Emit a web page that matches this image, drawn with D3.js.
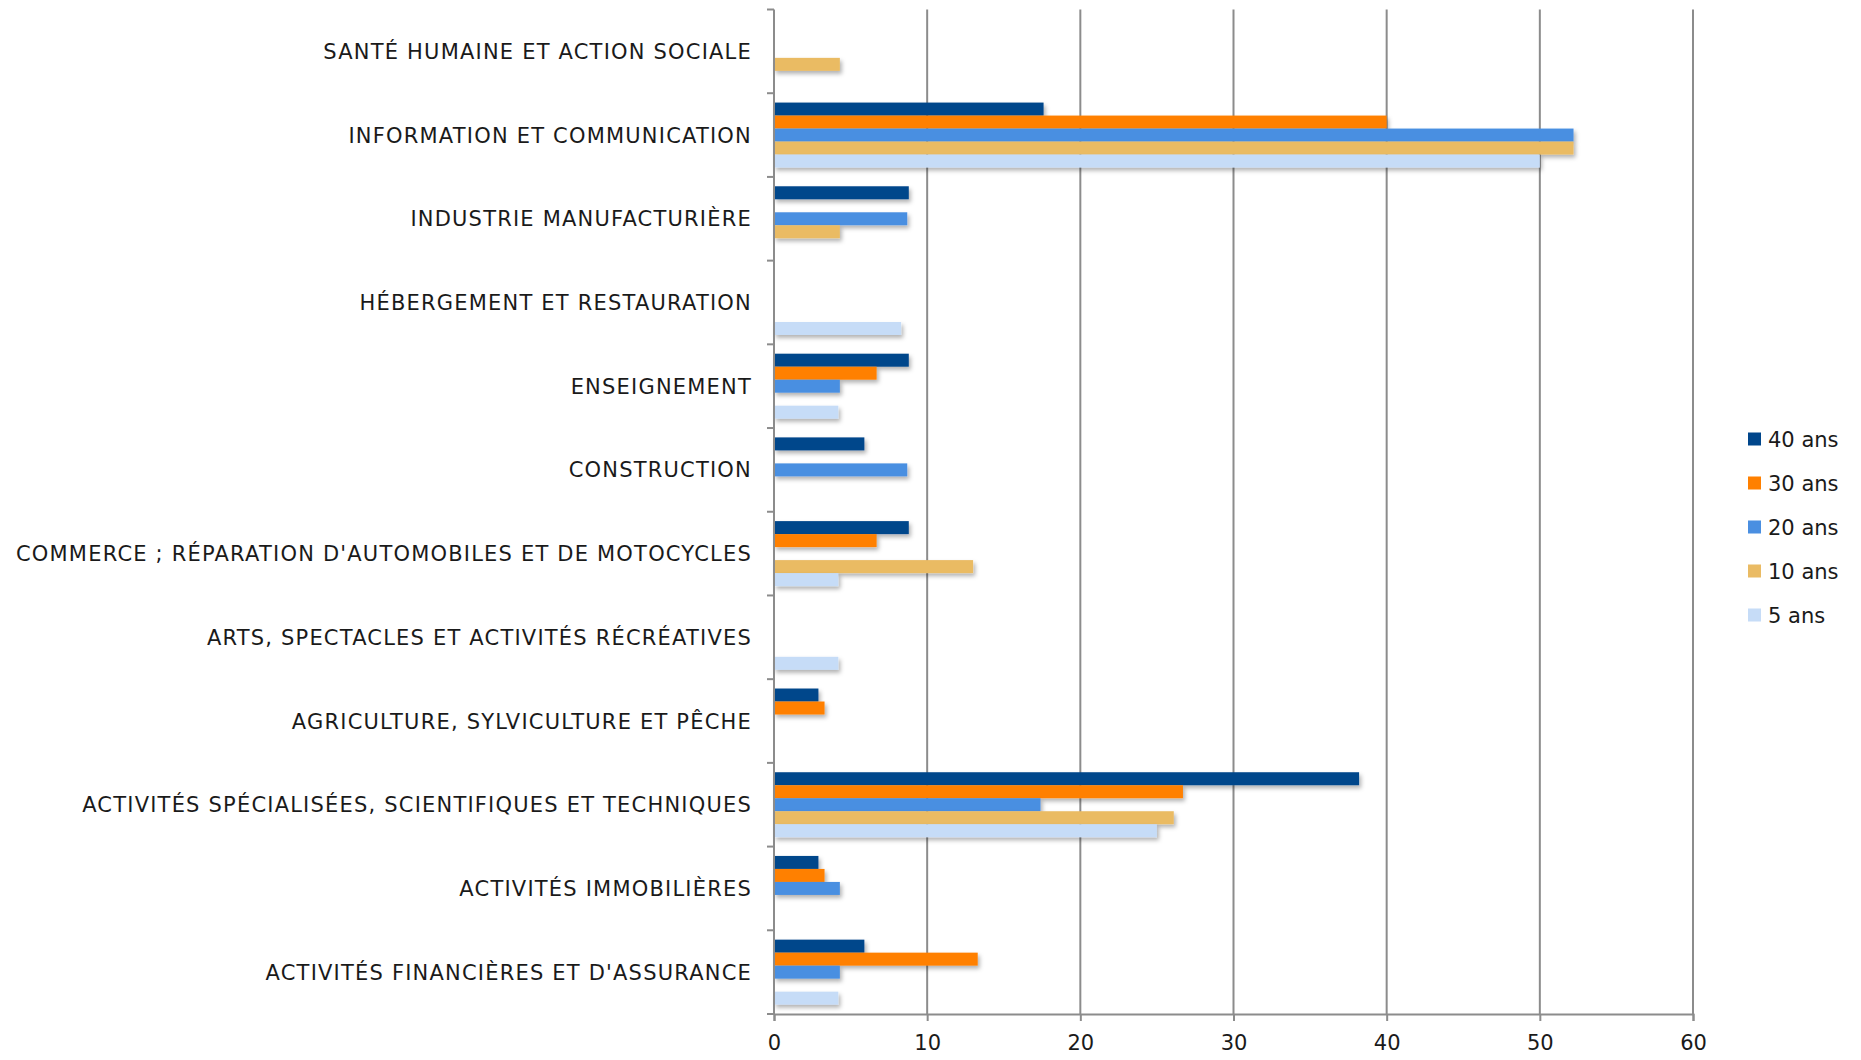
<!DOCTYPE html>
<html>
<head>
<meta charset="utf-8">
<script src="https://cdn.jsdelivr.net/npm/d3@7"></script>
<style>
  body { margin: 0; background: #fff; }
  text { font-family: "DejaVu Sans", sans-serif; fill: #1a1a1a; }
</style>
</head>
<body>
<div id="chart"></div>
<script>
// categories, top to bottom
const categories = [
  "SANTÉ HUMAINE ET ACTION SOCIALE",
  "INFORMATION ET COMMUNICATION",
  "INDUSTRIE MANUFACTURIÈRE",
  "HÉBERGEMENT ET RESTAURATION",
  "ENSEIGNEMENT",
  "CONSTRUCTION",
  "COMMERCE ; RÉPARATION D'AUTOMOBILES ET DE MOTOCYCLES",
  "ARTS, SPECTACLES ET ACTIVITÉS RÉCRÉATIVES",
  "AGRICULTURE, SYLVICULTURE ET PÊCHE",
  "ACTIVITÉS SPÉCIALISÉES, SCIENTIFIQUES ET TECHNIQUES",
  "ACTIVITÉS IMMOBILIÈRES",
  "ACTIVITÉS FINANCIÈRES ET D'ASSURANCE"
];

const seriesNames = ["40 ans", "30 ans", "20 ans", "10 ans", "5 ans"];
const seriesColors = ["#00468b", "#ff8000", "#4a8fe1", "#eabb64", "#c6dcf7"];

// values per category, same order as categories
const ans40 = [0, 17.6, 8.8, 0, 8.8, 5.9, 8.8, 0, 2.9, 38.2, 2.9, 5.9];
const ans30 = [0, 40.0, 0, 0, 6.7, 0, 6.7, 0, 3.3, 26.7, 3.3, 13.3];
const ans20 = [0, 52.2, 8.7, 0, 4.3, 8.7, 0, 0, 0, 17.4, 4.3, 4.3];
const ans10 = [4.3, 52.2, 4.3, 0, 0, 0, 13.0, 0, 0, 26.1, 0, 0];
const ans5  = [0, 50.0, 0, 8.3, 4.2, 0, 4.2, 4.2, 0, 25.0, 0, 4.2];
const xTicks = [0, 10, 20, 30, 40, 50, 60];

const series = [ans40, ans30, ans20, ans10, ans5];

const W = 1861, H = 1060;
const plotLeft = 774, plotRight = 1693, plotTop = 9.5, plotBottom = 1014;

const svg = d3.select("#chart").append("svg")
  .attr("width", W).attr("height", H);

// drop shadow for the bars
const defs = svg.append("defs");
const f = defs.append("filter").attr("id", "shadow")
  .attr("x", "-5%").attr("y", "-40%").attr("width", "120%").attr("height", "200%");
f.append("feDropShadow")
  .attr("dx", 2).attr("dy", 3).attr("stdDeviation", 2)
  .attr("flood-color", "#000").attr("flood-opacity", 0.3);

const x = d3.scaleLinear().domain([0, 60]).range([plotLeft, plotRight]);
const y = d3.scaleBand().domain(categories).range([plotTop, plotBottom]);
const inner = d3.scaleBand().domain(seriesNames)
  .range([0, y.bandwidth()]).paddingOuter(0.72);

// gridlines
svg.append("g").selectAll("line")
  .data(xTicks.slice(1)).enter()
  .append("line")
  .attr("x1", d => x(d)).attr("x2", d => x(d))
  .attr("y1", plotTop).attr("y2", plotBottom)
  .attr("stroke", "#8c8c8c").attr("stroke-width", 2);

// bars
const groups = svg.append("g").selectAll("g")
  .data(categories).enter()
  .append("g")
  .attr("transform", d => "translate(0," + y(d) + ")");

groups.selectAll("rect")
  .data((c, i) => seriesNames.map((s, j) => ({ s: s, v: series[j][i], col: seriesColors[j] })).filter(d => d.v > 0))
  .enter()
  .append("rect")
  .attr("x", x(0))
  .attr("y", d => inner(d.s))
  .attr("width", d => x(d.v) - x(0))
  .attr("height", inner.bandwidth())
  .attr("fill", d => d.col)
  .attr("filter", "url(#shadow)");

// y axis
const yAxis = svg.append("g")
  .attr("transform", "translate(" + plotLeft + ",0)");
yAxis.append("line")
  .attr("x1", 0).attr("x2", 0).attr("y1", plotTop).attr("y2", plotBottom)
  .attr("stroke", "#8c8c8c").attr("stroke-width", 2);
const bounds = categories.map(c => y(c)).concat([plotBottom]);
yAxis.selectAll(".tk").data(bounds).enter()
  .append("line")
  .attr("x1", -7).attr("x2", 0)
  .attr("y1", d => d).attr("y2", d => d)
  .attr("stroke", "#8c8c8c").attr("stroke-width", 2);
yAxis.selectAll("text").data(categories).enter()
  .append("text")
  .attr("x", -22)
  .attr("y", d => y(d) + y.bandwidth() / 2)
  .attr("dy", "0.36em")
  .attr("text-anchor", "end")
  .style("font-size", "21px")
  .style("letter-spacing", "1.2px")
  .text(d => d);

// x axis
const xAxis = svg.append("g")
  .attr("transform", "translate(0," + plotBottom + ")")
  .call(d3.axisBottom(x).tickValues(xTicks).tickSize(7).tickPadding(14));
xAxis.select(".domain").attr("stroke", "#8c8c8c").attr("stroke-width", 2);
xAxis.selectAll(".tick line").attr("stroke", "#8c8c8c").attr("stroke-width", 2);
xAxis.selectAll(".tick text")
  .style("font-size", "21px")
  .style("font-family", "\"DejaVu Sans\", sans-serif")
  .attr("fill", "#1a1a1a");

// legend
const legend = svg.append("g").attr("transform", "translate(1748,439)");
const items = legend.selectAll("g").data(seriesNames).enter()
  .append("g")
  .attr("transform", (d, i) => "translate(0," + i * 44 + ")");
items.append("rect")
  .attr("x", 0).attr("y", -6.5).attr("width", 13).attr("height", 13)
  .attr("fill", (d, i) => seriesColors[i]);
items.append("text")
  .attr("x", 20).attr("dy", "0.36em")
  .style("font-size", "21px")
  .text(d => d);
</script>
</body>
</html>
